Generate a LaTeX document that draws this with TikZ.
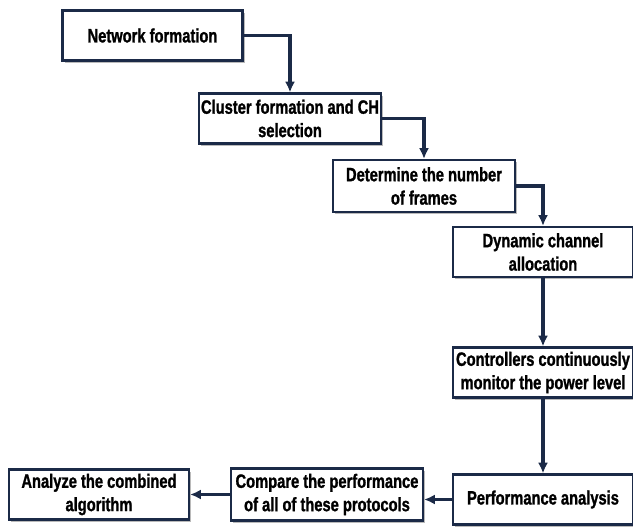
\documentclass[tikz,border=0pt]{standalone}
\usepackage{fontspec}
\setmainfont[FakeStretch=0.76,FakeBold=1.2]{Liberation Sans}
\usetikzlibrary{arrows.meta,shadows}
\definecolor{navy}{HTML}{1B2A47}
\tikzset{
  stepbox/.style={draw=navy,line width=1.7pt,fill=white,align=center,
    minimum width=135pt,minimum height=37.5pt,inner sep=1pt,
    font=\fontsize{14.5}{17.5}\selectfont\bfseries,
    drop shadow={shadow xshift=1.6pt,shadow yshift=-1.6pt,fill=black!45,opacity=.6}},
  arr/.style={draw=navy,line width=2.5pt,-{Latex[length=8pt,width=7.5pt]}}
}
\begin{document}
\begin{tikzpicture}[x=0.75pt,y=-0.75pt]
  \useasboundingbox(0,0)rectangle(633,528);
  \node[stepbox](net) at (152.5,35.5) {Network formation};
  \node[stepbox,minimum width=136.5pt](clu) at (290,118.5) {Cluster formation and CH\\selection};
  \node[stepbox,minimum width=136.5pt,minimum height=39pt](frm) at (424,186) {Determine the number\\of frames};
  \node[stepbox](dca) at (543,252) {Dynamic channel\\allocation};
  \node[stepbox](ctl) at (543,372.5) {Controllers continuously\\monitor the power level};
  \node[stepbox](perf) at (543,499.5) {Performance analysis};
  \node[stepbox,minimum width=144pt,minimum height=39pt](cmp) at (327,494.5) {Compare the performance\\of all of these protocols};
  \node[stepbox](ana) at (99,494.5) {Analyze the combined\\algorithm};
  % connectors
  \draw[arr](net.east)-|(clu.north);
  \draw[arr](clu.east)-|(frm.north);
  \draw[arr](frm.east)-|(dca.north);
  \draw[arr](dca)--(ctl);
  \draw[arr](ctl)--(perf);
  \draw[arr](perf.west)--(perf.west-|cmp.east);
  \draw[arr](cmp.west)--(ana.east);
\end{tikzpicture}
\end{document}
